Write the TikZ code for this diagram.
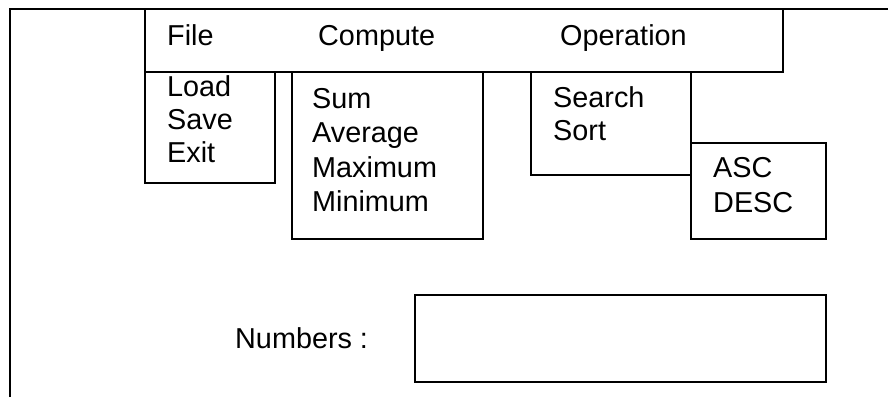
\documentclass[tikz,border=0pt]{standalone}
\usepackage{fontspec}
\setmainfont{Liberation Sans}
\begin{document}
\begin{tikzpicture}[x=1pt,y=-1pt,
  frame/.style={draw=black,line width=1.8pt,inner sep=0pt,outer sep=0pt,anchor=north west},
  label/.style={inner sep=0pt,anchor=base west,font=\fontsize{28.8}{34}\selectfont}]
\useasboundingbox (0,0) rectangle (888,397);
% outer window frame (left and top only)
\coordinate (fbl) at (10,397);
\coordinate (ftl) at (10,9);
\coordinate (ftr) at (888,9);
\draw[line width=1.8pt] (fbl) -- (ftl) -- (ftr);
% menu bar
\node[frame,minimum width=638pt,minimum height=63pt] (menubar) at (145,9) {};
\node[label] (tfile) at (167,45) {File};
\node[label] (tcompute) at (318,45) {Compute};
\node[label] (toperation) at (560,45) {Operation};
% File dropdown
\node[frame,minimum width=130pt,minimum height=111pt] (filemenu) at (145,72) {};
\node[label] (tload) at (167,96) {Load};
\node[label] (tsave) at (167,129) {Save};
\node[label] (texit) at (167,162) {Exit};
% Compute dropdown
\node[frame,minimum width=191pt,minimum height=167pt] (compmenu) at (292,72) {};
\node[label] (tsum) at (312,108) {Sum};
\node[label] (tavg) at (312,142) {Average};
\node[label] (tmax) at (312,177) {Maximum};
\node[label] (tmin) at (312,211) {Minimum};
% Operation dropdown
\node[frame,minimum width=160pt,minimum height=103pt] (opmenu) at (531,72) {};
\node[label] (tsearch) at (553,107) {Search};
\node[label] (tsort) at (553,140) {Sort};
% Sort submenu
\node[frame,fill=white,minimum width=135pt,minimum height=96pt] (sortmenu) at (691,143) {};
\node[label] (tasc) at (713,177) {ASC};
\node[label] (tdesc) at (713,212) {DESC};
% Numbers field
\node[label] (tnumbers) at (235,348) {Numbers :};
\node[frame,minimum width=411pt,minimum height=87pt] (numbox) at (415,295) {};
\end{tikzpicture}
\end{document}
